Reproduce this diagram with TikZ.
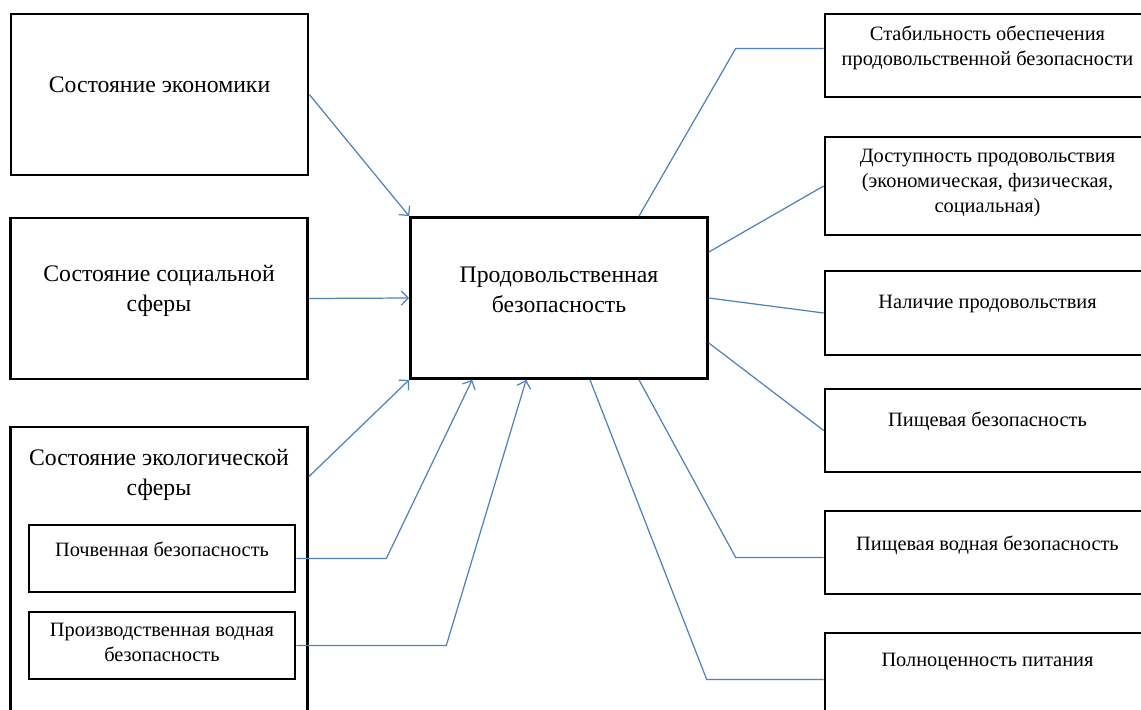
\documentclass[tikz,border=0pt]{standalone}
\usepackage{fontspec}
\setmainfont{Liberation Serif}
\usetikzlibrary{arrows.meta}
\definecolor{linkblue}{RGB}{79,129,189}

\begin{document}
\begin{tikzpicture}[
  box/.style={draw, line width=1.5pt, minimum width=5.94cm, minimum height=3.22cm, inner sep=0},
  sbox/.style={draw, line width=1.5pt, minimum width=5.32cm, minimum height=1.34cm, inner sep=0},
  rbox/.style={draw, line width=1.5pt, minimum width=6.5cm, inner sep=0},
  big/.style={font=\fontsize{13.5}{17}\selectfont, align=center},
  small/.style={font=\fontsize{11.6}{14.2}\selectfont, align=center},
  arr/.style={-{Straight Barb[length=4pt,width=8pt]}, linkblue, line width=0.7pt},
  link/.style={linkblue, line width=0.7pt}
]
\useasboundingbox (0,0) rectangle (22.82,-14.2);
\clip (0,0) rectangle (22.82,-14.2);

%% -- Factors (left column) ----------------------------------------------------
\node[box] (econ)   at (3.19,-1.89) {};
\node[box] (social) at (3.18,-5.97) {};
\node[box, minimum height=5.9cm] (eco) at (3.18,-11.49) {};
\node[sbox] (soil)  at (3.24,-11.17) {};
\node[sbox] (prodw) at (3.24,-12.91) {};

\node[big] (econ-t)   at ([yshift=0.2cm]econ.center)   {Состояние экономики};
\node[big] (social-t) at ([yshift=0.16cm]social.center) {Состояние социальной\\сферы};
\node[big] (eco-t)    at (3.18,-9.5) {Состояние экологической\\сферы};
\node[small] (soil-t)  at ([yshift=0.18cm]soil.center)  {Почвенная безопасность};
\node[small] (prodw-t) at ([yshift=0.06cm]prodw.center) {Производственная водная\\безопасность};

%% -- Centre ---------------------------------------------------------------------
\node[box] (cent) at (11.18,-5.96) {};
\node[big] (cent-t) at ([yshift=0.16cm]cent.center) {Продовольственная\\безопасность};

%% -- Components (right column) -------------------------------------------------
\node[rbox, minimum height=1.66cm] (stab) at (19.75,-1.11)  {};
\node[rbox, minimum height=1.96cm] (dost) at (19.75,-3.72)  {};
\node[rbox, minimum height=1.68cm] (nal)  at (19.75,-6.26)  {};
\node[rbox, minimum height=1.66cm] (pish) at (19.75,-8.61)  {};
\node[rbox, minimum height=1.66cm] (vodn) at (19.75,-11.05) {};
\node[rbox, minimum height=1.66cm] (poln) at (19.75,-13.49) {};

\node[small] (stab-t) at ([yshift=0.16cm]stab.center) {Стабильность обеспечения\\продовольственной безопасности};
\node[small] (dost-t) at ([yshift=0.06cm]dost.center) {Доступность продовольствия\\(экономическая, физическая,\\социальная)};
\node[small] (nal-t)  at ([yshift=0.18cm]nal.center)  {Наличие продовольствия};
\node[small] (pish-t) at ([yshift=0.19cm]pish.center) {Пищевая безопасность};
\node[small] (vodn-t) at ([yshift=0.15cm]vodn.center) {Пищевая водная безопасность};
\node[small] (poln-t) at ([yshift=0.25cm]poln.center) {Полноценность питания};

%% -- Arrows into the centre ---------------------------------------------------
\draw[arr] (econ.east) -- (cent.north west);
\draw[arr] (social.east) -- (cent.west);
\draw[arr] ([yshift=-1.02cm]eco.north east) -- (cent.south west);
\draw[arr] (soil.east) -- ++(1.8,0) -- ([xshift=1.26cm]cent.south west);
\draw[arr] (prodw.east) -- ++(3.0,0) -- ([xshift=2.34cm]cent.south west);

%% -- Links to the components -------------------------------------------------
\draw[link] ([xshift=1.6cm]cent.north) -- ([xshift=-1.76cm,yshift=0.14cm]stab.west) -- ([yshift=0.14cm]stab.west);
\draw[link] ([yshift=0.92cm]cent.east) -- (dost.west);
\draw[link] (cent.east) -- (nal.west);
\draw[link] ([yshift=-0.9cm]cent.east) -- (pish.west);
\draw[link] ([xshift=1.6cm]cent.south) -- ([xshift=-1.76cm,yshift=-0.1cm]vodn.west) -- ([yshift=-0.1cm]vodn.west);
\draw[link] ([xshift=0.62cm]cent.south) -- ([xshift=-2.34cm,yshift=-0.1cm]poln.west) -- ([yshift=-0.1cm]poln.west);

\end{tikzpicture}
\end{document}
